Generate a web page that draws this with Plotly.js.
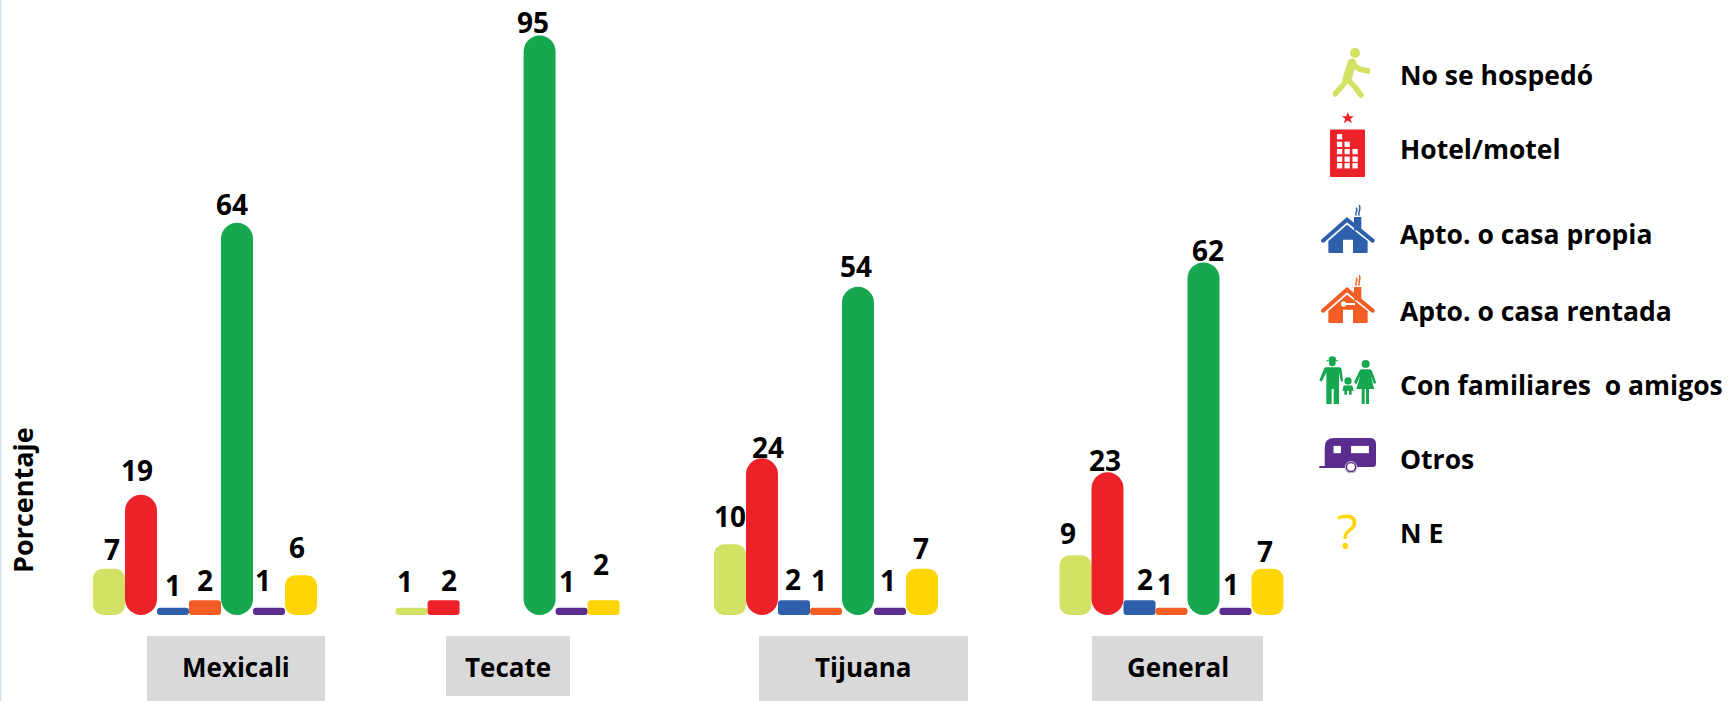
<!DOCTYPE html>
<html>
<head>
<meta charset="utf-8">
<script src="https://cdn.plot.ly/plotly-3.0.1.min.js"></script>
<style>html,body{margin:0;padding:0;background:#fff;overflow:hidden}#chart{width:1732px;height:701px}</style>
</head>
<body>
<div id="chart"></div>
<script>
// Categories and series names
const cities = ['Mexicali', 'Tecate', 'Tijuana', 'General'];
const seriesNames = ['No se hospedó', 'Hotel/motel', 'Apto. o casa propia', 'Apto. o casa rentada', 'Con familiares  o amigos', 'Otros', 'N E'];
const seriesColors = ['#d3e264', '#ed2229', '#2e5fac', '#f15d22', '#15a84f', '#5b2d8e', '#ffd503'];

// Drawn bar heights (Mexicali, Tecate, Tijuana, General)
const noSeHospedo = [7.6, 1.2, 11.6, 9.8];
const hotelMotel = [19.7, 2.4, 25.7, 23.4];
const casaPropia = [1.2, null, 2.4, 2.4];
const casaRentada = [2.4, null, 1.2, 1.2];
const familiares = [64.3, 95, 53.8, 57.8];
const otros = [1.2, 1.2, 1.2, 1.2];
const noEspecifica = [6.5, 2.4, 7.6, 7.6];
const barHeights = [noSeHospedo, hotelMotel, casaPropia, casaRentada, familiares, otros, noEspecifica];

// Printed value labels
const labelsNoSeHospedo = ['7', '1', '10', '9'];
const labelsHotel = ['19', '2', '24', '23'];
const labelsPropia = ['1', '', '2', '2'];
const labelsRentada = ['2', '', '1', '1'];
const labelsFamiliares = ['64', '95', '54', '62'];
const labelsOtros = ['1', '1', '1', '1'];
const labelsNE = ['6', '2', '7', '7'];
const printedLabels = [labelsNoSeHospedo, labelsHotel, labelsPropia, labelsRentada, labelsFamiliares, labelsOtros, labelsNE];

// Layout constants (pixels)
const W = 1732, H = 701, baselineY = 615, pxPerUnit = 6.1, barW = 32;
const groupCenters = [205, 507.6, 826, 1171.5];
const cornerRadii = [10, 16, 3, 3, 16, 3, 10];
const shortBarRadius = 3, shortBarLimit = 20;
const labelDx = [[3, -4, 0, 0, -5, -6, -4], [-7, 5, 0, 0, -7, -5, -3], [0, 6, -1, -7, -2, -2, -1], [-8, -3, 5, -7, 4, -5, -3]];
const labelUp = [[20, 25, 23, 20, 19, 28, 28], [27, 20, 0, 0, 14, 27, 36], [28, 11, 21, 28, 21, 28, 21], [22, 12, 21, 24, 12, 24, 18]];
const boxes = [[147, 325, 701], [446, 570, 696], [759, 968, 701], [1092, 1263, 701]];
const boxTop = 636, boxLabelY = 667;
const legendTextX = 1398;
const legendY = [75, 149, 234, 311, 385, 459, 533];

const FONT = '"Open Sans", "Noto Sans", sans-serif';

// One trace per bar, because the corner radius is a per-trace setting
const traces = [];
barHeights.forEach((hs, s) => hs.forEach((h, c) => {
  if (h === null) return;
  traces.push({
    type: 'bar', name: seriesNames[s] + ' – ' + cities[c],
    x: [groupCenters[c] + (s - 3) * barW], y: [h], base: 0, width: barW,
    marker: {color: seriesColors[s], cornerradius: h * pxPerUnit < shortBarLimit ? shortBarRadius : cornerRadii[s], line: {width: 0}},
    hoverinfo: 'skip', showlegend: false
  });
}));

const annotations = [];
barHeights.forEach((hs, s) => hs.forEach((h, c) => {
  if (h === null) return;
  annotations.push({
    x: groupCenters[c] + (s - 3) * barW, y: h, xref: 'x', yref: 'y',
    xshift: labelDx[c][s], yshift: labelUp[c][s],
    text: '<b>' + printedLabels[s][c] + '</b>', showarrow: false,
    xanchor: 'center', yanchor: 'middle',
    font: {family: FONT, size: 28, color: '#000'}
  });
}));
cities.forEach((name, i) => annotations.push({
  x: (boxes[i][0] + boxes[i][1]) / 2 / W, y: 1 - boxLabelY / H, xref: 'paper', yref: 'paper',
  text: '<b>' + name + '</b>', showarrow: false, xanchor: 'center', yanchor: 'middle',
  font: {family: FONT, size: 26, color: '#000'}
}));
seriesNames.forEach((name, i) => annotations.push({
  x: legendTextX / W, y: 1 - legendY[i] / H, xref: 'paper', yref: 'paper',
  text: '<b>' + name.replace(/ {2}/g, '&nbsp; ') + '</b>', showarrow: false, xanchor: 'left', yanchor: 'middle',
  font: {family: FONT, size: 26.5, color: '#000'}
}));
annotations.push({
  x: 22 / W, y: 1 - 500 / H, xref: 'paper', yref: 'paper', text: '<b>Porcentaje</b>',
  textangle: -90, showarrow: false, xanchor: 'center', yanchor: 'middle',
  font: {family: FONT, size: 27, color: '#000'}
});
annotations.push({
  x: 1347 / W, y: 1 - 530 / H, xref: 'paper', yref: 'paper', text: '?',
  showarrow: false, xanchor: 'center', yanchor: 'middle',
  font: {family: FONT, size: 48, color: seriesColors[6]}
});

const shapes = boxes.map(b => ({
  type: 'rect', xref: 'paper', yref: 'paper', layer: 'below',
  x0: b[0] / W, x1: b[1] / W, y0: 1 - b[2] / H, y1: 1 - boxTop / H,
  fillcolor: '#d9d9d9', line: {width: 0}
}));
shapes.push({type: 'rect', xref: 'paper', yref: 'paper', x0: 0, x1: 1.5 / W, y0: 0, y1: 1, fillcolor: '#cfe9f7', line: {width: 0}, layer: 'below'});

function svg(vb, body) {
  return 'data:image/svg+xml;charset=utf-8,' + encodeURIComponent(
    '<svg xmlns="http://www.w3.org/2000/svg" viewBox="0 0 ' + vb + '" preserveAspectRatio="none">' + body + '</svg>');
}
function house(c, extra) {
  return svg('162 150',
    '<path d="M106 38c-7-8 7-14 0-24M115 38c-7-8 7-16 0-32" fill="none" stroke="' + c + '" stroke-width="4.5"/>' +
    '<rect x="99" y="42" width="22" height="40" fill="' + c + '"/>' +
    '<path d="M6 113 L78 50 L155 113" fill="none" stroke="' + c + '" stroke-width="12" stroke-linecap="round"/>' +
    '<path fill="' + c + '" d="M22 114 L78 65 L140 114 V146 Q140 150 136 150 H96 V110 H66 V150 H26 Q22 150 22 146 Z"/>' + (extra || ''));
}
const lime = '#d3e264';
const iconPerson = svg('37 50',
  '<circle cx="22" cy="5" r="5" fill="' + lime + '"/>' +
  '<path d="M19 15 L14 31" fill="none" stroke="' + lime + '" stroke-width="9" stroke-linecap="round"/>' +
  '<path d="M14 31 L10 37 L2 46 M14 31 L22 39 L28 47 M19 15 L26 21 L35 23" fill="none" stroke="' + lime + '" stroke-width="5.5" stroke-linecap="round" stroke-linejoin="round"/>');
let win = '';
[[0],[0,1],[0,1,2],[0,1,2],[0,1,2]].forEach((cols, r) => cols.forEach(k => {
  win += '<rect x="' + [21,44,68][k] + '" y="' + (53 + [14,37,59,82,102][r]) + '" width="16" height="16" fill="#fff"/>';
}));
const iconHotel = svg('106 197',
  '<polygon fill="#ed2229" points="54,0 59,13 72,13 62,21 66,34 54,26 42,34 46,21 36,13 49,13"/>' +
  '<rect x="0" y="53" width="106" height="144" rx="3" fill="#ed2229"/>' + win);
const iconBlue = house('#2e5fac');
const iconOrange = house('#f15d22', '<circle cx="68" cy="93" r="8" fill="#fff"/><rect x="68" y="90" width="34" height="6" fill="#fff"/>');
const g = '#15a84f';
const iconFamily = svg('171 146',
  '<g fill="' + g + '">' +
  '<ellipse cx="40" cy="9" rx="11" ry="8"/><rect x="22" y="13" width="36" height="3"/><circle cx="40" cy="21" r="10"/>' +
  '<path d="M20 34 H60 Q68 34 68 42 L72 76 L66 78 L60 50 V100 V146 H44 V100 H38 V146 H22 V50 L8 78 L1 74 L14 42 Q15 34 20 34 Z"/>' +
  '<circle cx="87" cy="76" r="11"/><path d="M74 90 H100 L104 106 H98 V118 H90 V106 H84 V118 H76 V106 H70 Z"/>' +
  '<circle cx="140" cy="24" r="12"/>' +
  '<path d="M128 40 H152 Q158 40 160 48 L172 82 L165 85 L155 60 L166 100 H150 V146 H141 V100 H137 V146 H128 V100 H112 L124 60 L112 86 L105 80 L120 48 Q122 40 128 40 Z"/></g>');
const p = '#5b2d8e';
const iconTrailer = svg('169 106',
  '<path fill="' + p + '" d="M17 85 V28 Q17 0 45 0 H150 Q169 0 169 18 V78 Q169 88 160 88 H17 Z"/>' +
  '<rect x="0" y="85" width="100" height="6" rx="3" fill="' + p + '"/>' +
  '<rect x="43" y="24" width="22" height="22" fill="#fff"/><rect x="95" y="24" width="53" height="22" fill="#fff"/>' +
  '<circle cx="95" cy="88" r="15" fill="#fff" stroke="' + p + '" stroke-width="7"/><circle cx="95" cy="88" r="6" fill="#fff"/>' +
  '<circle cx="95" cy="88" r="17" fill="none" stroke="#fff" stroke-width="2"/>');

function img(source, x0, x1, y0, y1) {
  return {source, xref: 'paper', yref: 'paper', x: x0 / W, y: 1 - y0 / H, sizex: (x1 - x0) / W, sizey: (y1 - y0) / H,
    sizing: 'stretch', xanchor: 'left', yanchor: 'top', layer: 'above'};
}
const images = [
  img(iconPerson, 1333, 1370, 48, 98),
  img(iconHotel, 1330, 1365, 112, 177),
  img(iconBlue, 1321, 1375, 203, 253),
  img(iconOrange, 1321, 1375, 273, 323),
  img(iconFamily, 1319, 1376, 356, 404),
  img(iconTrailer, 1319, 1376, 438, 473)
];

const layout = {
  width: W, height: H, margin: {l: 0, r: 0, t: 0, b: 0, pad: 0},
  paper_bgcolor: '#fff', plot_bgcolor: 'rgba(0,0,0,0)',
  barmode: 'overlay', showlegend: false, hovermode: false,
  xaxis: {range: [0, W], visible: false, fixedrange: true},
  yaxis: {range: [-(H - baselineY) / pxPerUnit, baselineY / pxPerUnit], visible: false, fixedrange: true, zeroline: false},
  annotations, shapes, images
};
Plotly.newPlot('chart', traces, layout, {displayModeBar: false, staticPlot: true});
</script>
</body>
</html>
